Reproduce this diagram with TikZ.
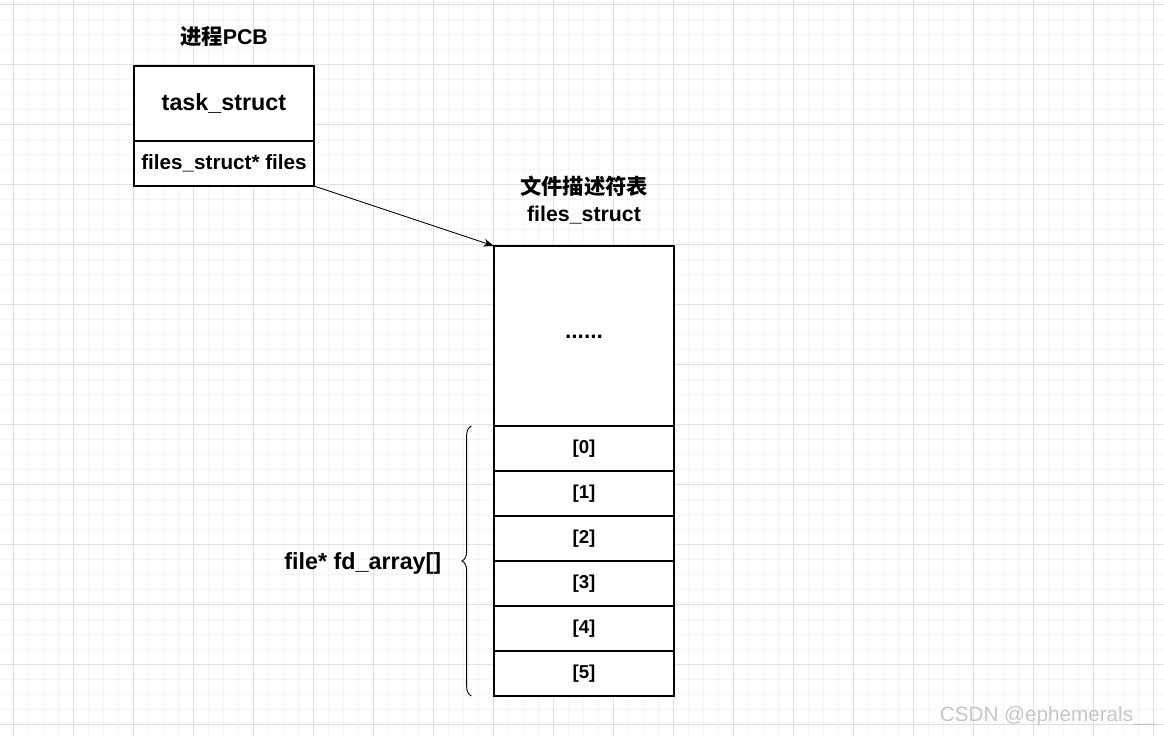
\documentclass[tikz,border=0pt]{standalone}
\usepackage{fontspec}
\setmainfont{Liberation Sans}
\newfontfamily\cjk{Noto Sans CJK SC}
\usetikzlibrary{positioning,decorations.pathreplacing,arrows.meta}
\tikzset{
  box/.style = {draw, line width=0.8pt, minimum width=135pt, inner sep=0pt, outer sep=0pt, font=\bfseries},
  cell/.style = {box, minimum height=33.75pt, font=\bfseries\fontsize{14}{16}\selectfont},
  title/.style = {font=\bfseries\fontsize{16}{20}\selectfont, align=center}
}
\begin{document}
\begin{tikzpicture}[x=0.75pt, y=-0.75pt]
\useasboundingbox (0,0) rectangle (1164,736);
% grid
\foreach \x in {13,28,...,1164} \draw[gray!9, line width=0.6pt] (\x,0) -- (\x,736);
\foreach \y in {4,19,...,736} \draw[gray!9, line width=0.6pt] (0,\y) -- (1164,\y);
\foreach \x in {13,73,...,1164} \draw[gray!25, line width=0.6pt] (\x,0) -- (\x,736);
\foreach \y in {4,64,...,736} \draw[gray!25, line width=0.6pt] (0,\y) -- (1164,\y);
% PCB
\node[box, fill=white, minimum height=56.25pt, font=\bfseries\fontsize{17.5}{20}\selectfont, anchor=north west] (task) at (134,66) {task\_struct};
\node[box, fill=white, minimum height=33.75pt, font=\bfseries\fontsize{15.5}{18}\selectfont, below=0pt of task] (files) {files\_struct* files};
\node[title] (pcb) at (224,37) {{\cjk 进程}PCB};
% files_struct
\node[box, fill=white, minimum height=135pt, font=\bfseries\fontsize{17}{20}\selectfont, anchor=north west] (dots) at (494,246) {\raisebox{-4pt}{......}};
\node[cell, fill=white, below=0pt of dots] (c0) {[0]};
\foreach \i [remember=\i as \j (initially 0)] in {1,...,5}
  \node[cell, fill=white, below=0pt of c\j] (c\i) {[\i]};
\node[title] (fs) at (584,200) {{\cjk 文件描述符表}\\files\_struct};
% pointer
\draw[-{Stealth[length=8pt]}, line width=0.7pt] (files.south east) -- (dots.north west);
% brace
\draw[decorate, decoration={brace, amplitude=7pt}, line width=0.7pt]
  ([xshift=-17pt]c5.south west) -- ([xshift=-17pt]c0.north west) coordinate[midway] (mid);
\node[font=\bfseries\fontsize{17.5}{20}\selectfont, anchor=east] (arr) at ([xshift=-19pt,yshift=-2pt]mid) {file* fd\_array[]};
\node[text=gray!45, font=\fontsize{15.5}{18}\selectfont] (mark) at (1048,716) {CSDN @ephemerals\_\_};
\end{tikzpicture}
\end{document}
